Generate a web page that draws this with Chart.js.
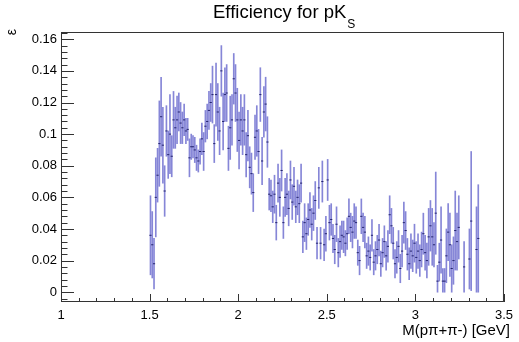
<!DOCTYPE html>
<html>
<head>
<meta charset="utf-8">
<script src="https://cdn.jsdelivr.net/npm/chart.js@4.4.1/dist/chart.umd.min.js"></script>
<style>
  html, body { margin: 0; padding: 0; background: #fff; }
  #wrap { width: 519px; height: 342px; }
</style>
</head>
<body>
<div id="wrap"><canvas id="effChart" width="519" height="342"></canvas></div>
<script>
// histogram binning (GeV)
const massMin = 1.50;
const binWidth = 0.01;

// efficiency per bin, null = empty bin
const eff = [
  0.036, 0.030, 0.018, 0.060, 0.074, 0.094, 0.111, 0.093, 0.064, 0.102,
  0.087, 0.100, 0.086, 0.109, 0.104, 0.109, 0.114, 0.107, 0.104, 0.109,
  0.102, 0.103, 0.085, 0.092, 0.092, 0.090, 0.085, 0.083, 0.089, 0.097,
  0.089, 0.105, 0.108, 0.115, 0.120, 0.125, 0.094, 0.125, 0.114, 0.102,
  0.140, 0.108, 0.125, 0.126, 0.091, 0.104, 0.109, 0.135, 0.126, 0.109,
  0.096, 0.109, 0.102, 0.109, 0.087, 0.099, 0.079, 0.075, 0.063, 0.098,
  0.102, 0.089, 0.125, 0.083, 0.114, 0.119, 0.095, 0.062, 0.061, 0.054,
  0.062, 0.044, 0.069, 0.060, 0.077, 0.044, 0.060, 0.062, 0.053, 0.071,
  0.057, 0.067, 0.054, 0.060, 0.056, 0.069, 0.035, 0.044, 0.037, 0.046,
  0.052, 0.043, 0.050, 0.058, 0.031, 0.066, 0.031, 0.070, 0.030, 0.037,
  0.071, 0.044, 0.046, 0.034, 0.027, 0.043, 0.025, 0.032, 0.036, 0.035,
  0.031, 0.037, 0.048, 0.041, 0.038, 0.045, 0.044, 0.025, 0.020, 0.048,
  0.041, 0.038, 0.023, 0.026, 0.022, 0.036, 0.019, 0.023, 0.027, 0.033,
  0.018, 0.025, 0.032, 0.023, 0.029, 0.049, 0.042, 0.031, 0.018, 0.022,
  0.029, 0.015, 0.026, 0.044, 0.039, 0.024, 0.018, 0.026, 0.023, 0.031,
  0.022, 0.026, 0.020, 0.027, 0.037, 0.025, 0.020, 0.035, 0.042, 0.035,
  0.030, 0.050, 0.007, 0.019, 0.033, 0.007, 0.007, 0.023, 0.038, 0.030,
  0.015, 0.020, 0.039, 0.032, 0.041, null, null, 0.016, null, null,
  0.021, 0.045, null, null, 0.027, 0.034
];

// error per bin (lower edge clipped at 0)
const effErr = [
  0.025, 0.021, 0.016, 0.025, 0.017, 0.027, 0.025, 0.024, 0.016, 0.016,
  0.015, 0.025, 0.013, 0.018, 0.013, 0.015, 0.012, 0.013, 0.010, 0.010,
  0.008, 0.007, 0.012, 0.008, 0.007, 0.008, 0.008, 0.007, 0.008, 0.010,
  0.012, 0.010, 0.011, 0.012, 0.012, 0.018, 0.012, 0.020, 0.018, 0.015,
  0.016, 0.018, 0.017, 0.018, 0.014, 0.020, 0.016, 0.016, 0.018, 0.020,
  0.018, 0.016, 0.015, 0.016, 0.014, 0.016, 0.013, 0.013, 0.012, 0.014,
  0.016, 0.014, 0.017, 0.015, 0.016, 0.017, 0.016, 0.010, 0.010, 0.010,
  0.012, 0.011, 0.012, 0.012, 0.013, 0.010, 0.012, 0.013, 0.011, 0.012,
  0.011, 0.012, 0.010, 0.011, 0.012, 0.012, 0.010, 0.012, 0.010, 0.010,
  0.011, 0.010, 0.011, 0.012, 0.010, 0.013, 0.010, 0.013, 0.010, 0.011,
  0.013, 0.011, 0.010, 0.009, 0.009, 0.011, 0.009, 0.010, 0.009, 0.010,
  0.008, 0.010, 0.011, 0.009, 0.010, 0.011, 0.010, 0.008, 0.009, 0.011,
  0.009, 0.010, 0.008, 0.009, 0.008, 0.010, 0.008, 0.009, 0.009, 0.010,
  0.008, 0.009, 0.010, 0.009, 0.010, 0.012, 0.011, 0.010, 0.009, 0.010,
  0.010, 0.009, 0.010, 0.013, 0.012, 0.010, 0.010, 0.011, 0.010, 0.012,
  0.010, 0.011, 0.010, 0.011, 0.013, 0.011, 0.011, 0.018, 0.016, 0.018,
  0.014, 0.026, 0.010, 0.012, 0.021, 0.008, 0.008, 0.017, 0.018, 0.020,
  0.015, 0.015, 0.025, 0.018, 0.020, null, null, 0.016, null, null,
  0.019, 0.044, null, null, 0.027, 0.034
];

const xTicks = [1, 1.5, 2, 2.5, 3, 3.5];
const yTicks = [0, 0.02, 0.04, 0.06, 0.08, 0.1, 0.12, 0.14, 0.16];

const FONT = '"Liberation Sans", Arial, Helvetica, sans-serif';

const errBars = [];
const centers = [];
eff.forEach((v, i) => {
  if (v === null) return;
  const x = massMin + binWidth * (i + 0.5);
  errBars.push({ x: x, y: [Math.max(0, v - effErr[i]), v + effErr[i]] });
  centers.push({ x: x, y: v });
});

// ROOT-like frame, inward ticks and titles
const rootFrame = {
  id: 'rootFrame',
  afterDraw(chart) {
    const ctx = chart.ctx;
    const a = chart.chartArea;
    const sx = chart.scales.x, sy = chart.scales.y;
    ctx.save();
    ctx.strokeStyle = '#333';
    ctx.lineWidth = 1;
    ctx.strokeRect(a.left + 0.5, a.top + 0.5, a.right - a.left - 1, a.bottom - a.top - 1);

    ctx.beginPath();
    for (let k = 0; k <= 25; k++) {
      const px = Math.round(sx.getPixelForValue(1 + k * 0.1)) + 0.5;
      const len = k % 5 === 0 ? 8 : 4;
      ctx.moveTo(px, a.bottom);
      ctx.lineTo(px, a.bottom - len);
    }
    for (let k = -1; k <= 41; k++) {
      const v = k * 0.004;
      if (v < sy.min || v > sy.max) continue;
      const py = Math.round(sy.getPixelForValue(v)) + 0.5;
      const len = k % 5 === 0 ? 13 : 6.5;
      ctx.moveTo(a.left, py);
      ctx.lineTo(a.left + len, py);
    }
    ctx.stroke();

    ctx.fillStyle = '#000';
    ctx.textBaseline = 'alphabetic';
    ctx.textAlign = 'left';
    ctx.font = '18.5px ' + FONT;
    const main = 'Efficiency for pK';
    ctx.fillText(main, 213, 18);
    const w = ctx.measureText(main).width;
    ctx.font = '12px ' + FONT;
    ctx.fillText('S', 213 + w + 1, 27.5);

    ctx.font = '15px ' + FONT;
    ctx.textAlign = 'right';
    ctx.fillText('M(p\u03c0+\u03c0-) [GeV]', 510, 335);

    ctx.font = '14px ' + FONT;
    ctx.translate(16, 29);
    ctx.rotate(-Math.PI / 2);
    ctx.fillText('\u03b5', 0, 0);
    ctx.restore();
  }
};

new Chart(document.getElementById('effChart'), {
  type: 'bar',
  data: {
    datasets: [
      {
        type: 'scatter',
        data: centers,
        pointStyle: 'line',
        radius: 1.1,
        borderWidth: 1,
        borderColor: '#24246e',
        hoverRadius: 0
      },
      {
        data: errBars,
        backgroundColor: 'rgba(60,60,190,0.62)',
        borderWidth: 0,
        barThickness: 1
      }
    ]
  },
  options: {
    responsive: false,
    animation: false,
    events: [],
    layout: { padding: { left: 0, right: 9, top: 32, bottom: 0 } },
    plugins: {
      legend: { display: false },
      tooltip: { enabled: false },
      title: { display: false }
    },
    scales: {
      x: {
        type: 'linear',
        offset: false,
        min: 1,
        max: 3.5,
        grid: { display: false, drawTicks: false, offset: false },
        border: { display: false },
        afterFit(scale) { scale.height = 40; },
        afterBuildTicks(scale) { scale.ticks = xTicks.map(v => ({ value: v })); },
        ticks: {
          autoSkip: false,
          maxRotation: 0,
          padding: 6,
          color: '#000',
          font: { family: FONT, size: 13 },
          callback: v => String(v)
        }
      },
      y: {
        min: -0.0062,
        max: 0.1646,
        grid: { display: false, drawTicks: false },
        border: { display: false },
        afterFit(scale) { scale.width = 61; },
        afterBuildTicks(scale) { scale.ticks = yTicks.map(v => ({ value: v })); },
        ticks: {
          padding: 4,
          color: '#000',
          font: { family: FONT, size: 13 },
          callback: v => String(+v.toFixed(2))
        }
      }
    }
  },
  plugins: [rootFrame]
});
</script>
</body>
</html>
